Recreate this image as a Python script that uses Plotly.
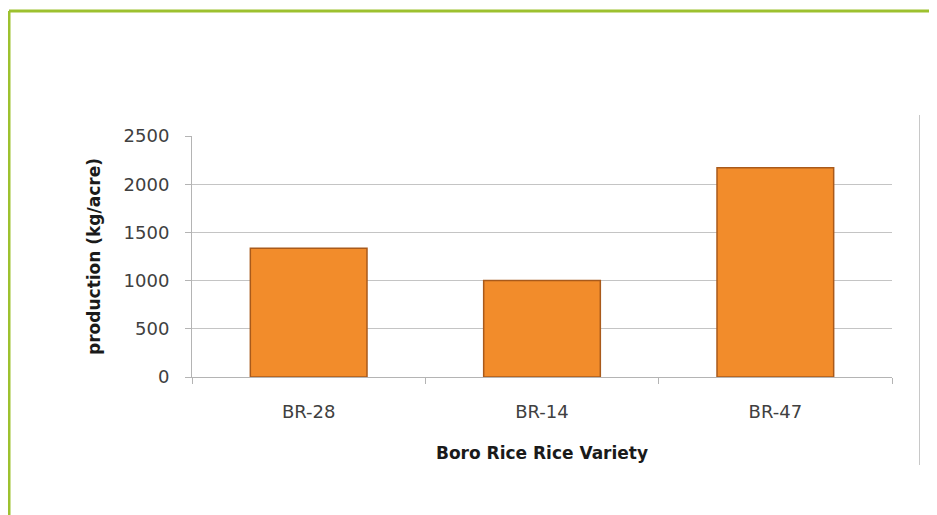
import plotly.graph_objects as go

categories = ["BR-28", "BR-14", "BR-47"]
production = [1335, 1000, 2170]
y_ticks = [0, 500, 1000, 1500, 2000, 2500]

# page body has an 8px margin, so the figure is laid out 8px smaller
OFF = 8
W, H = 937 - OFF, 515 - OFF
L, T = 192 - OFF, 136 - OFF
R = W - (892 - OFF)
B = H - (377 - OFF)
pw, ph = W - L - R, H - T - B

def px(x):
    return (x - OFF - L) / pw

def py(y):
    return (H - B - (y - OFF)) / ph

fig = go.Figure()
fig.add_trace(go.Bar(
    x=categories, y=production,
    marker=dict(color="#F28C2B", line=dict(color="#A95A1B", width=1.5)),
    hoverinfo="x+y",
))

font = "DejaVu Sans, sans-serif"
fig.update_layout(
    width=W, height=H,
    margin=dict(l=L, r=R, t=T, b=B, autoexpand=False),
    paper_bgcolor="white", plot_bgcolor="white",
    bargap=0.5, showlegend=False,
    font=dict(family=font, size=18, color="#404040"),
    xaxis=dict(
        type="category", showline=True, linecolor="#B4B4B4", linewidth=1,
        ticks="outside", tickson="boundaries", ticklen=6, tickcolor="#B4B4B4",
        ticklabelstandoff=18, showgrid=False,
        tickfont=dict(family=font, size=18, color="#404040"),
        title=dict(text="<b>Boro Rice Rice Variety</b>", standoff=26,
                   font=dict(family=font, size=17, color="#1a1a1a")),
    ),
    yaxis=dict(
        range=[0, 2500], tickvals=y_ticks, showline=True, linecolor="#B4B4B4",
        linewidth=1, ticks="outside", ticklen=6, tickcolor="#B4B4B4",
        ticklabelstandoff=12, showgrid=True, gridcolor="#C4C4C4", gridwidth=1,
        zeroline=False,
        tickfont=dict(family=font, size=18, color="#404040"),
        title=dict(text="<b>production (kg/acre)</b>", standoff=18,
                   font=dict(family=font, size=17, color="#1a1a1a")),
    ),
    shapes=[
        dict(type="line", xref="paper", yref="paper",
             x0=px(9), x1=px(945), y0=py(11), y1=py(11),
             line=dict(color="#9DC12F", width=3)),
        dict(type="line", xref="paper", yref="paper",
             x0=px(9), x1=px(9), y0=py(11), y1=py(525),
             line=dict(color="#9DC12F", width=3)),
        dict(type="line", xref="paper", yref="paper",
             x0=px(919.5), x1=px(919.5), y0=py(115), y1=py(465),
             line=dict(color="#C8C8C8", width=1)),
    ],
)

fig.write_html("out.html")
